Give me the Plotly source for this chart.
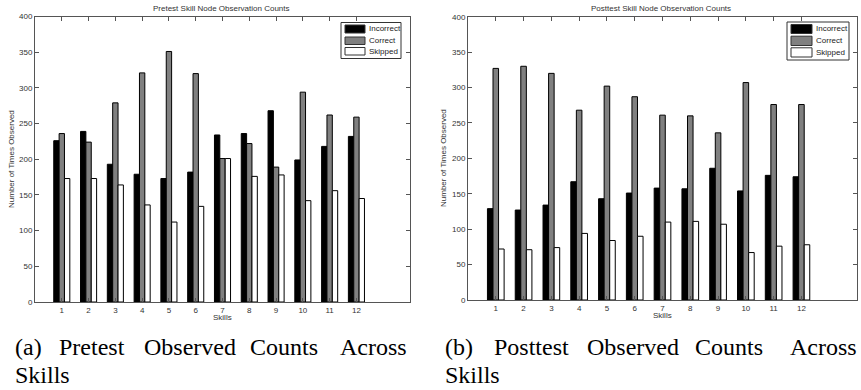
import plotly.graph_objects as go

skills = list(range(1, 13))
series_names = ["Incorrect", "Correct", "Skipped"]
series_colors = ["#000000", "#808080", "#ffffff"]

pre_incorrect = [226, 239, 193, 179, 173, 182, 234, 236, 268, 199, 218, 232]
pre_correct = [236, 224, 279, 321, 351, 320, 201, 222, 189, 294, 262, 259]
pre_skipped = [173, 173, 164, 136, 112, 134, 201, 176, 178, 142, 156, 145]

post_incorrect = [129, 127, 134, 167, 143, 151, 158, 157, 186, 154, 176, 174]
post_correct = [327, 330, 320, 268, 302, 287, 261, 260, 236, 307, 276, 276]
post_skipped = [72, 71, 74, 94, 84, 90, 110, 111, 107, 67, 76, 78]

pre_title = "Pretest Skill Node Observation Counts"
post_title = "Posttest Skill Node Observation Counts"
x_label = "Skills"
y_label = "Number of Times Observed"
caption_a = ["(a)", "Pretest", "Observed", "Counts", "Across"]
caption_b = ["(b)", "Posttest", "Observed", "Counts", "Across"]
caption_line2 = "Skills"

W, H = 861, 390


def px(x):
    return x / W


def py(y):
    return 1 - y / H


fig = go.Figure()
for name, color, vals in zip(series_names, series_colors, [pre_incorrect, pre_correct, pre_skipped]):
    fig.add_trace(go.Bar(x=skills, y=vals, name=name, xaxis="x", yaxis="y", showlegend=False,
                         marker=dict(color=color, line=dict(color="#000000", width=1))))
for name, color, vals in zip(series_names, series_colors, [post_incorrect, post_correct, post_skipped]):
    fig.add_trace(go.Bar(x=skills, y=vals, name=name, xaxis="x2", yaxis="y2", showlegend=False,
                         marker=dict(color=color, line=dict(color="#000000", width=1))))

tickfont = dict(family="Liberation Sans, Arial", size=8, color="#333333")
common = dict(showline=True, linecolor="#555555", linewidth=1, mirror="ticks", ticks="inside",
              ticklen=4, tickcolor="#555555", showgrid=False, zeroline=False, tickfont=tickfont)

fig.update_layout(
    width=W, height=H,
    margin=dict(l=0, r=0, t=0, b=0, autoexpand=False),
    paper_bgcolor="white", plot_bgcolor="white",
    barmode="group", bargap=0.4, bargroupgap=0,
    showlegend=False,
    xaxis=dict(domain=[px(35), px(410)], range=[0, 14], tickvals=skills, anchor="y", **common),
    yaxis=dict(domain=[py(302), py(16.5)], range=[0, 400], dtick=50, anchor="x", **common),
    xaxis2=dict(domain=[px(468), px(857)], range=[0, 14], tickvals=skills, anchor="y2", **common),
    yaxis2=dict(domain=[py(300), py(16.7)], range=[0, 400], dtick=50, anchor="x2", **common),
)

small = dict(family="Liberation Sans, Arial", size=8, color="#333333")
ann = []
shapes = []
ann.append(dict(text=pre_title, x=px(221), y=py(8), xref="paper", yref="paper", showarrow=False,
                xanchor="center", yanchor="middle", font=small))
ann.append(dict(text=post_title, x=px(661), y=py(8), xref="paper", yref="paper", showarrow=False,
                xanchor="center", yanchor="middle", font=small))
ann.append(dict(text=x_label, x=px(222), y=py(317), xref="paper", yref="paper", showarrow=False,
                xanchor="center", yanchor="middle", font=small))
ann.append(dict(text=x_label, x=px(662), y=py(315), xref="paper", yref="paper", showarrow=False,
                xanchor="center", yanchor="middle", font=small))
ann.append(dict(text=y_label, x=px(11), y=py(159), xref="paper", yref="paper", showarrow=False,
                textangle=-90, xanchor="center", yanchor="middle", font=small))
ann.append(dict(text=y_label, x=px(443), y=py(158), xref="paper", yref="paper", showarrow=False,
                textangle=-90, xanchor="center", yanchor="middle", font=small))

# legend boxes (positions in page pixels)
legend_specs = [
    (341, 401, 22.5, 58.5, 345, 365, [(25, 33), (37, 44.5), (47.5, 55)], 367),
    (787, 849, 22, 60, 791, 812, [(24.5, 33.5), (36.2, 45.5), (47.8, 57)], 814),
]
for bx0, bx1, by0, by1, sx0, sx1, srows, tx in legend_specs:
    shapes.append(dict(type="rect", xref="paper", yref="paper", x0=px(bx0), x1=px(bx1),
                       y0=py(by1), y1=py(by0), fillcolor="white", line=dict(color="#333333", width=1)))
    for name, color, (sy0, sy1) in zip(series_names, series_colors, srows):
        shapes.append(dict(type="rect", xref="paper", yref="paper", x0=px(sx0), x1=px(sx1),
                           y0=py(sy1), y1=py(sy0), fillcolor=color, line=dict(color="#333333", width=1)))
        ann.append(dict(text=name, x=px(tx), y=py((sy0 + sy1) / 2), xref="paper", yref="paper",
                        showarrow=False, xanchor="left", yanchor="middle",
                        font=dict(family="Liberation Sans, Arial", size=8, color="#222222")))

serif = dict(family="Liberation Serif, Times New Roman", size=24, color="#000000")
a_pos = [13, 57, 142, 248, 338]
b_pos = [443, 492, 585, 693, 788]
for word, xp in zip(caption_a, a_pos):
    ann.append(dict(text=word, x=px(xp), y=py(347), xref="paper", yref="paper", showarrow=False,
                    xanchor="left", yanchor="middle", font=serif))
for word, xp in zip(caption_b, b_pos):
    ann.append(dict(text=word, x=px(xp), y=py(347), xref="paper", yref="paper", showarrow=False,
                    xanchor="left", yanchor="middle", font=serif))
ann.append(dict(text=caption_line2, x=px(13), y=py(375), xref="paper", yref="paper", showarrow=False,
                xanchor="left", yanchor="middle", font=serif))
ann.append(dict(text=caption_line2, x=px(443), y=py(375), xref="paper", yref="paper", showarrow=False,
                xanchor="left", yanchor="middle", font=serif))
fig.update_layout(annotations=ann, shapes=shapes)

fig.write_html(
    "out.html",
    config={"displayModeBar": False},
    post_script="document.body.style.margin='0';document.body.style.overflow='hidden';",
)
